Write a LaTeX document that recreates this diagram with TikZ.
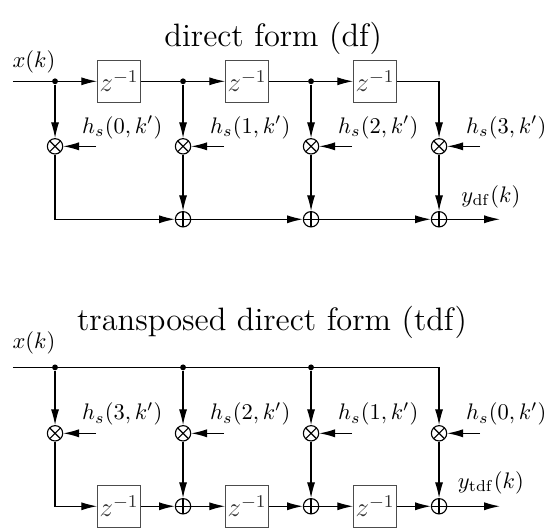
\documentclass[tikz,border=0pt]{standalone}
\usepackage{amsmath,amssymb}
\usetikzlibrary{arrows.meta}
\tikzset{
  wire/.style={draw=black, line width=0.5pt},
  arrow/.style={-{Latex[length=7pt,width=3.6pt]}, draw=black, line width=0.5pt},
  delay/.style={draw=black!70, line width=0.5pt, text=black!80, font=\large, minimum width=0.67cm, minimum height=0.66cm, inner sep=0pt},
  mult/.style={circle, draw, line width=0.5pt, minimum size=0.24cm, inner sep=0pt,
    path picture={\draw[line width=0.5pt] (path picture bounding box.north west)--(path picture bounding box.south east)
      (path picture bounding box.north east)--(path picture bounding box.south west);}},
  adder/.style={circle, draw, line width=0.5pt, minimum size=0.24cm, inner sep=0pt,
    path picture={\draw[line width=0.5pt] (path picture bounding box.north)--(path picture bounding box.south)
      (path picture bounding box.west)--(path picture bounding box.east);}},
  junction/.style={circle, fill, inner sep=0pt, minimum size=2.6pt},
  tag/.style={black, font=\normalsize},
  heading/.style={black, font=\Large}
}
\begin{document}
\begin{tikzpicture}
  \useasboundingbox (-0.86,-7) rectangle (7.64,1.27);
  % direct form
  \node[heading] (T1) at (3.41,0.67) {direct form (df)};
  \node[tag] (X1) at (-0.33,0.30) {$x(k)$};
  \coordinate (I1) at (-0.66,0);
  \coordinate (O1) at (6.95,-2.156);
  \node[junction] (J1) at (0,0) {};
  \node[junction] (J2) at (2,0) {};
  \node[junction] (J3) at (4,0) {};
  \node[delay] (Z1) at (1,0) {$z^{-1}$};
  \node[delay] (Z2) at (3,0) {$z^{-1}$};
  \node[delay] (Z3) at (5,0) {$z^{-1}$};
  \node[mult] (M1) at (0,-1.016) {};
  \node[mult] (M2) at (2,-1.016) {};
  \node[mult] (M3) at (4,-1.016) {};
  \node[mult] (M4) at (6,-1.016) {};
  \node[adder] (S2) at (2,-2.156) {};
  \node[adder] (S3) at (4,-2.156) {};
  \node[adder] (S4) at (6,-2.156) {};
  \node[tag] (H1) at (1.05,-0.72) {$h_s(0,k')$};
  \node[tag] (H2) at (3.05,-0.72) {$h_s(1,k')$};
  \node[tag] (H3) at (5.05,-0.72) {$h_s(2,k')$};
  \node[tag] (H4) at (7.05,-0.72) {$h_s(3,k')$};
  \coordinate (C1) at (0.64,-1.016);
  \coordinate (C2) at (2.64,-1.016);
  \coordinate (C3) at (4.64,-1.016);
  \coordinate (C4) at (6.64,-1.016);
  \node[tag] (Y1) at (6.81,-1.80) {$y_{\mathrm{df}}(k)$};
  \draw[arrow] (I1) -- (Z1);
  \draw[wire] (Z1) -- (J2);
  \draw[arrow] (J2) -- (Z2);
  \draw[wire] (Z2) -- (J3);
  \draw[arrow] (J3) -- (Z3);
  \draw[arrow] (Z3) -| (M4);
  \draw[arrow] (J1) -- (M1);
  \draw[arrow] (J2) -- (M2);
  \draw[arrow] (J3) -- (M3);
  \draw[arrow] (C1) -- (M1);
  \draw[arrow] (C2) -- (M2);
  \draw[arrow] (C3) -- (M3);
  \draw[arrow] (C4) -- (M4);
  \draw[arrow] (M1) |- (S2);
  \draw[arrow] (M2) -- (S2);
  \draw[arrow] (M3) -- (S3);
  \draw[arrow] (M4) -- (S4);
  \draw[arrow] (S2) -- (S3);
  \draw[arrow] (S3) -- (S4);
  \draw[arrow] (S4) -- (O1);
  % transposed direct form
  \node[heading] (T2) at (3.39,-3.77) {transposed direct form (tdf)};
  \node[tag] (X2) at (-0.33,-4.09) {$x(k)$};
  \coordinate (I2) at (-0.66,-4.47);
  \coordinate (O2) at (6.95,-6.64);
  \node[junction] (K1) at (0,-4.47) {};
  \node[junction] (K2) at (2,-4.47) {};
  \node[junction] (K3) at (4,-4.47) {};
  \node[mult] (N1) at (0,-5.5) {};
  \node[mult] (N2) at (2,-5.5) {};
  \node[mult] (N3) at (4,-5.5) {};
  \node[mult] (N4) at (6,-5.5) {};
  \node[delay] (W1) at (1,-6.64) {$z^{-1}$};
  \node[delay] (W2) at (3,-6.64) {$z^{-1}$};
  \node[delay] (W3) at (5,-6.64) {$z^{-1}$};
  \node[adder] (R2) at (2,-6.64) {};
  \node[adder] (R3) at (4,-6.64) {};
  \node[adder] (R4) at (6,-6.64) {};
  \node[tag] (G1) at (1.05,-5.20) {$h_s(3,k')$};
  \node[tag] (G2) at (3.05,-5.20) {$h_s(2,k')$};
  \node[tag] (G3) at (5.05,-5.20) {$h_s(1,k')$};
  \node[tag] (G4) at (7.05,-5.20) {$h_s(0,k')$};
  \coordinate (D1) at (0.64,-5.5);
  \coordinate (D2) at (2.64,-5.5);
  \coordinate (D3) at (4.64,-5.5);
  \coordinate (D4) at (6.64,-5.5);
  \node[tag] (Y2) at (6.81,-6.27) {$y_{\mathrm{tdf}}(k)$};
  \draw[arrow] (I2) -| (N4);
  \draw[arrow] (K1) -- (N1);
  \draw[arrow] (K2) -- (N2);
  \draw[arrow] (K3) -- (N3);
  \draw[arrow] (D1) -- (N1);
  \draw[arrow] (D2) -- (N2);
  \draw[arrow] (D3) -- (N3);
  \draw[arrow] (D4) -- (N4);
  \draw[arrow] (N1) |- (W1);
  \draw[arrow] (W1) -- (R2);
  \draw[arrow] (N2) -- (R2);
  \draw[arrow] (R2) -- (W2);
  \draw[arrow] (W2) -- (R3);
  \draw[arrow] (N3) -- (R3);
  \draw[arrow] (R3) -- (W3);
  \draw[arrow] (W3) -- (R4);
  \draw[arrow] (N4) -- (R4);
  \draw[arrow] (R4) -- (O2);
\end{tikzpicture}
\end{document}
